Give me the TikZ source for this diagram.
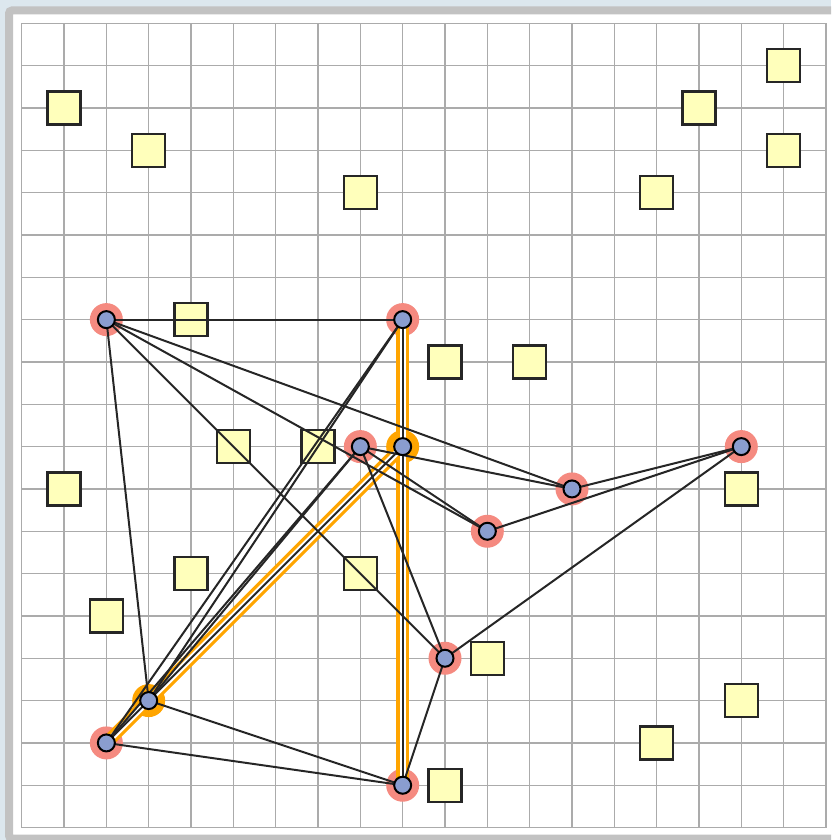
\documentclass[tikz,border=0pt]{standalone}
\definecolor{bgblue}{HTML}{DCE7EE}
\definecolor{framegray}{HTML}{C2C2C2}
\definecolor{gridgray}{HTML}{ABABAB}
\definecolor{boxfill}{HTML}{FFFFBB}
\definecolor{vfill}{HTML}{8A9DCF}
\definecolor{halored}{HTML}{F58A80}
\definecolor{haloorange}{HTML}{FFA500}
\begin{document}
\begin{tikzpicture}[x=1pt,y=-1pt,
  gridline/.style={draw=gridgray, line width=1.4pt},
  obstacle/.style={rectangle, draw=black!85, fill=boxfill, line width=2.2pt, minimum size=33pt, inner sep=0pt},
  vert/.style={circle, draw=black, fill=vfill, line width=2pt, minimum size=17pt, inner sep=0pt},
  redhalo/.style={circle, fill=halored, minimum size=33pt, inner sep=0pt},
  orangehalo/.style={circle, fill=haloorange, minimum size=33pt, inner sep=0pt},
  edge/.style={draw=black!85, line width=2pt},
  hlout/.style={draw=haloorange, line width=12.5pt},
  hlin/.style={draw=white, line width=6pt}]
\useasboundingbox (0,0) rectangle (831,840);
\clip (0,0) rectangle (831,840);
\fill[bgblue] (0,0) rectangle (831,840);
\fill[white] (9,10.5) rectangle (845,838.5);
\draw[framegray, line width=8pt, rounded corners=3pt] (9,10.5) rectangle (845,838.5);
\begin{scope}[shift={(21.7pt,-23.3pt)}, x=42.33pt, y=-42.33pt]
  % grid
  \foreach \i in {0,...,19} {
    \draw[gridline] (\i,0) -- (\i,19);
    \draw[gridline] (0,\i) -- (19,\i);
  }
  % obstacles
  \foreach \c/\r [count=\n] in {1/2,3/3,8/4,18/1,16/2,18/3,15/4,4/7,10/8,12/8,5/10,7/10,1/11,17/11,4/13,8/13,2/14,11/15,17/16,15/17,10/18}
    \node[obstacle] (box\n) at (\c,\r) {};
  % vertex positions
  \coordinate (A) at (2,7);
  \coordinate (B) at (9,7);
  \coordinate (C) at (8,10);
  \coordinate (D) at (9,10);
  \coordinate (E) at (13,11);
  \coordinate (F) at (17,10);
  \coordinate (G) at (11,12);
  \coordinate (H) at (10,15);
  \coordinate (I) at (3,16);
  \coordinate (J) at (2,17);
  \coordinate (K) at (9,18);
  % halos
  \foreach \v in {A,B,C,E,F,G,H,J,K} \node[redhalo] (halo\v) at (\v) {};
  \foreach \v in {D,I} \node[orangehalo] (halo\v) at (\v) {};
  % highlighted path
  \draw[hlout] (B) -- (K);
  \draw[hlout] (D) -- (J);
  \draw[hlin] (B) -- (K);
  \draw[hlin] (D) -- (J);
  % edges
  \foreach \p/\q in {A/B,A/E,A/G,A/H,A/I,B/I,B/J,C/I,C/J,C/E,C/G,C/H,E/F,G/F,H/F,H/K,I/K,J/K,B/K,D/J}
    \draw[edge] (\p) -- (\q);
  % vertices
  \foreach \v in {A,B,C,D,E,F,G,H,I,J,K} \node[vert] (v\v) at (\v) {};
\end{scope}
\end{tikzpicture}
\end{document}
